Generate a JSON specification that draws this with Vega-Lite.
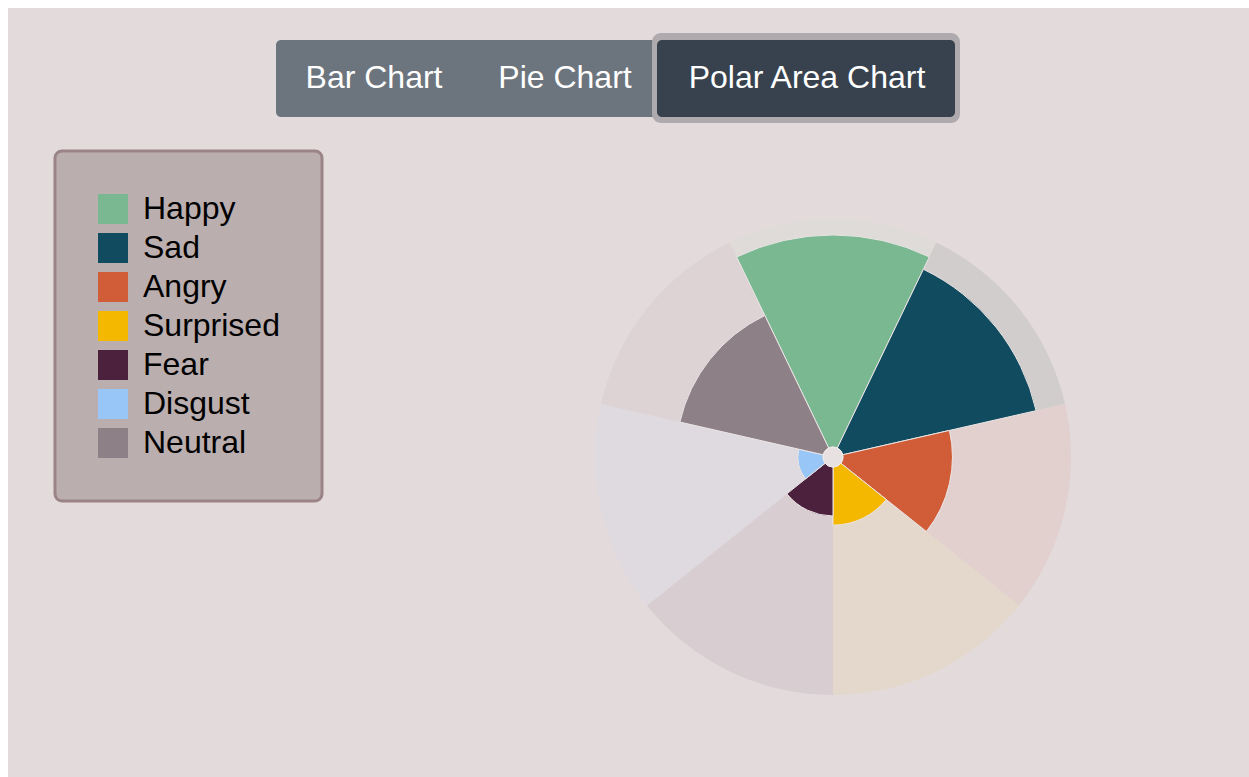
{
  "$schema": "https://vega.github.io/schema/vega-lite/v6.json",
  "width": 1249,
  "height": 777,
  "autosize": {"type": "fit", "contains": "padding"},
  "padding": {"left": 8, "top": 8, "right": 0, "bottom": 0},
  "background": "#ffffff",
  "config": {
    "view": {"stroke": null},
    "font": "Liberation Sans",
    "legend": {"strokeWidth": 3}
  },
  "data": {
    "values": [
      {"emotion": "Happy", "value": 93},
      {"emotion": "Sad", "value": 87},
      {"emotion": "Angry", "value": 48},
      {"emotion": "Surprised", "value": 25.5},
      {"emotion": "Fear", "value": 21.5},
      {"emotion": "Disgust", "value": 11},
      {"emotion": "Neutral", "value": 64.5}
    ]
  },
  "layer": [
    {
      "data": {"values": [{}]},
      "mark": {"type": "rect", "x": 0, "x2": {"expr": "width"}, "y": 0, "y2": {"expr": "height"}, "fill": "#e3dadb"},
      "encoding": {}
    },
    {
      "transform": [
        {"window": [{"op": "count", "as": "slice_start"}], "frame": [null, -1]},
        {"window": [{"op": "count", "as": "slice_end"}], "frame": [null, 0]}
      ],
      "mark": {"type": "arc", "innerRadius": 10, "x": 825, "y": 449},
      "encoding": {
        "theta": {"field": "slice_start", "type": "quantitative", "stack": null, "scale": {"domain": [0, 7], "range": [-0.4488, 5.8344]}},
        "theta2": {"field": "slice_end"},
        "radius": {"datum": 100, "type": "quantitative", "scale": {"domain": [0, 100], "range": [10, 238]}},
        "fill": {
          "field": "emotion", "type": "nominal",
          "scale": {
            "domain": ["Neutral", "Disgust", "Fear", "Surprised", "Angry", "Sad", "Happy"],
            "range": ["#ddd3d5", "#dedadf", "#d8cdd1", "#e3d8cb", "#e2d0cf", "#d1cdcd", "#dedbd8"]
          },
          "legend": null
        }
      }
    },
    {
      "transform": [
        {"window": [{"op": "count", "as": "slice_start"}], "frame": [null, -1]},
        {"window": [{"op": "count", "as": "slice_end"}], "frame": [null, 0]}
      ],
      "mark": {"type": "arc", "innerRadius": 10, "x": 825, "y": 449, "stroke": "#ebe5e5", "strokeWidth": 1},
      "encoding": {
        "theta": {"field": "slice_start", "type": "quantitative", "stack": null},
        "theta2": {"field": "slice_end"},
        "radius": {"field": "value", "type": "quantitative"},
        "color": {
          "field": "emotion", "type": "nominal",
          "sort": ["Happy", "Sad", "Angry", "Surprised", "Fear", "Disgust", "Neutral"],
          "scale": {
            "domain": ["Happy", "Sad", "Angry", "Surprised", "Fear", "Disgust", "Neutral"],
            "range": ["#7ab892", "#114b5f", "#d05d37", "#f5b800", "#4b213d", "#98c6f6", "#8e8087"]
          },
          "legend": {
            "orient": "none",
            "legendX": 47,
            "legendY": 143,
            "title": null,
            "symbolType": "square",
            "symbolSize": 900,
            "symbolStrokeWidth": 0,
            "labelFontSize": 32,
            "labelColor": "#000000",
            "labelFont": "Liberation Sans",
            "labelOffset": 14,
            "rowPadding": 7,
            "padding": 42,
            "fillColor": "#bbaeae",
            "strokeColor": "#9b8488",
            "cornerRadius": 7,
            "encode": {"legend": {"update": {"strokeWidth": {"value": 3}}}}
          }
        }
      }
    },
    {
      "data": {"values": [{}]},
      "mark": {"type": "arc", "x": 825, "y": 449, "radius": 10, "theta": 0, "theta2": 6.2832, "fill": "#e8e1e2", "stroke": "#efeaea", "strokeWidth": 1},
      "encoding": {}
    },
    {
      "data": {"values": [{}]},
      "mark": {"type": "rect", "x": 268, "x2": 655, "y": 32, "y2": 109, "fill": "#6c757d", "cornerRadius": 5},
      "encoding": {}
    },
    {
      "data": {"values": [{}]},
      "mark": {"type": "rect", "x": 644, "x2": 952, "y": 25, "y2": 115, "fill": "#afaaad", "cornerRadius": 9},
      "encoding": {}
    },
    {
      "data": {"values": [{}]},
      "mark": {"type": "rect", "x": 649, "x2": 947, "y": 32, "y2": 109, "fill": "#37424e", "cornerRadius": 5},
      "encoding": {}
    },
    {
      "data": {"values": [{}]},
      "mark": {"type": "text", "x": 366, "y": 80, "text": "Bar Chart", "fontSize": 32, "color": "#ffffff", "align": "center", "baseline": "alphabetic"},
      "encoding": {}
    },
    {
      "data": {"values": [{}]},
      "mark": {"type": "text", "x": 557, "y": 80, "text": "Pie Chart", "fontSize": 32, "color": "#ffffff", "align": "center", "baseline": "alphabetic"},
      "encoding": {}
    },
    {
      "data": {"values": [{}]},
      "mark": {"type": "text", "x": 799, "y": 80, "text": "Polar Area Chart", "fontSize": 32, "color": "#ffffff", "align": "center", "baseline": "alphabetic"},
      "encoding": {}
    }
  ]
}
